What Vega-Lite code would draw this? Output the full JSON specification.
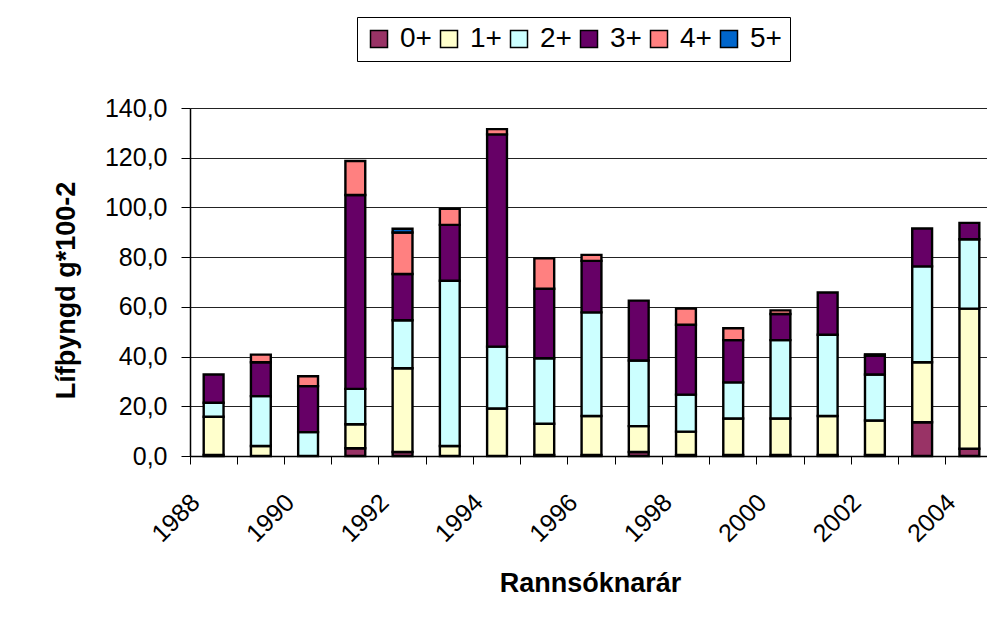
{
  "$schema": "https://vega.github.io/schema/vega-lite/v6.json",
  "width": 797,
  "height": 348,
  "autosize": {"type": "none"},
  "padding": {"left": 190, "top": 108, "right": 0, "bottom": 169},
  "background": "white",
  "config": {
    "font": "Liberation Sans",
    "view": {"stroke": null},
    "axis": {"labelFont": "Liberation Sans", "titleFont": "Liberation Sans", "labelColor": "black", "titleColor": "black"}
  },
  "data": {"values": [
    {"year": 1988, "age": "0+", "k": 0, "v": 0.4},
    {"year": 1988, "age": "1+", "k": 1, "v": 15.4},
    {"year": 1988, "age": "2+", "k": 2, "v": 5.6},
    {"year": 1988, "age": "3+", "k": 3, "v": 11.4},
    {"year": 1989, "age": "1+", "k": 1, "v": 4.0},
    {"year": 1989, "age": "2+", "k": 2, "v": 20.1},
    {"year": 1989, "age": "3+", "k": 3, "v": 13.6},
    {"year": 1989, "age": "4+", "k": 4, "v": 3.1},
    {"year": 1990, "age": "2+", "k": 2, "v": 9.6},
    {"year": 1990, "age": "3+", "k": 3, "v": 18.5},
    {"year": 1990, "age": "4+", "k": 4, "v": 4.0},
    {"year": 1991, "age": "0+", "k": 0, "v": 3.1},
    {"year": 1991, "age": "1+", "k": 1, "v": 9.7},
    {"year": 1991, "age": "2+", "k": 2, "v": 14.2},
    {"year": 1991, "age": "3+", "k": 3, "v": 78.0},
    {"year": 1991, "age": "4+", "k": 4, "v": 13.7},
    {"year": 1992, "age": "0+", "k": 0, "v": 1.6},
    {"year": 1992, "age": "1+", "k": 1, "v": 33.7},
    {"year": 1992, "age": "2+", "k": 2, "v": 19.3},
    {"year": 1992, "age": "3+", "k": 3, "v": 18.6},
    {"year": 1992, "age": "4+", "k": 4, "v": 16.7},
    {"year": 1992, "age": "5+", "k": 5, "v": 1.5},
    {"year": 1993, "age": "1+", "k": 1, "v": 4.0},
    {"year": 1993, "age": "2+", "k": 2, "v": 66.5},
    {"year": 1993, "age": "3+", "k": 3, "v": 22.5},
    {"year": 1993, "age": "4+", "k": 4, "v": 6.4},
    {"year": 1994, "age": "1+", "k": 1, "v": 19.1},
    {"year": 1994, "age": "2+", "k": 2, "v": 24.9},
    {"year": 1994, "age": "3+", "k": 3, "v": 85.4},
    {"year": 1994, "age": "4+", "k": 4, "v": 2.1},
    {"year": 1995, "age": "0+", "k": 0, "v": 0.4},
    {"year": 1995, "age": "1+", "k": 1, "v": 12.6},
    {"year": 1995, "age": "2+", "k": 2, "v": 26.3},
    {"year": 1995, "age": "3+", "k": 3, "v": 28.0},
    {"year": 1995, "age": "4+", "k": 4, "v": 12.2},
    {"year": 1996, "age": "0+", "k": 0, "v": 0.4},
    {"year": 1996, "age": "1+", "k": 1, "v": 15.7},
    {"year": 1996, "age": "2+", "k": 2, "v": 41.7},
    {"year": 1996, "age": "3+", "k": 3, "v": 20.7},
    {"year": 1996, "age": "4+", "k": 4, "v": 2.4},
    {"year": 1997, "age": "0+", "k": 0, "v": 1.6},
    {"year": 1997, "age": "1+", "k": 1, "v": 10.4},
    {"year": 1997, "age": "2+", "k": 2, "v": 26.4},
    {"year": 1997, "age": "3+", "k": 3, "v": 24.1},
    {"year": 1998, "age": "0+", "k": 0, "v": 0.4},
    {"year": 1998, "age": "1+", "k": 1, "v": 9.4},
    {"year": 1998, "age": "2+", "k": 2, "v": 14.9},
    {"year": 1998, "age": "3+", "k": 3, "v": 28.1},
    {"year": 1998, "age": "4+", "k": 4, "v": 6.5},
    {"year": 1999, "age": "0+", "k": 0, "v": 0.4},
    {"year": 1999, "age": "1+", "k": 1, "v": 14.7},
    {"year": 1999, "age": "2+", "k": 2, "v": 14.5},
    {"year": 1999, "age": "3+", "k": 3, "v": 17.0},
    {"year": 1999, "age": "4+", "k": 4, "v": 4.8},
    {"year": 2000, "age": "0+", "k": 0, "v": 0.4},
    {"year": 2000, "age": "1+", "k": 1, "v": 14.7},
    {"year": 2000, "age": "2+", "k": 2, "v": 31.5},
    {"year": 2000, "age": "3+", "k": 3, "v": 10.5},
    {"year": 2000, "age": "4+", "k": 4, "v": 1.5},
    {"year": 2001, "age": "0+", "k": 0, "v": 0.4},
    {"year": 2001, "age": "1+", "k": 1, "v": 15.7},
    {"year": 2001, "age": "2+", "k": 2, "v": 32.7},
    {"year": 2001, "age": "3+", "k": 3, "v": 17.0},
    {"year": 2002, "age": "0+", "k": 0, "v": 0.4},
    {"year": 2002, "age": "1+", "k": 1, "v": 13.9},
    {"year": 2002, "age": "2+", "k": 2, "v": 18.5},
    {"year": 2002, "age": "3+", "k": 3, "v": 7.6},
    {"year": 2002, "age": "4+", "k": 4, "v": 0.5},
    {"year": 2003, "age": "0+", "k": 0, "v": 13.6},
    {"year": 2003, "age": "1+", "k": 1, "v": 24.1},
    {"year": 2003, "age": "2+", "k": 2, "v": 38.6},
    {"year": 2003, "age": "3+", "k": 3, "v": 15.2},
    {"year": 2004, "age": "0+", "k": 0, "v": 2.9},
    {"year": 2004, "age": "1+", "k": 1, "v": 56.4},
    {"year": 2004, "age": "2+", "k": 2, "v": 27.9},
    {"year": 2004, "age": "3+", "k": 3, "v": 6.6}
  ]},
  "mark": {"type": "bar", "width": {"band": 0.42}, "stroke": "black", "strokeWidth": 2.4},
  "encoding": {
    "x": {
      "field": "year", "type": "ordinal",
      "scale": {"range": [0, 803], "paddingInner": 0, "paddingOuter": 0},
      "axis": {
        "title": "Rannsóknarár",
        "titleFontSize": 27, "titleFontWeight": "bold",
        "titleX": 400, "titleY": 135, "titleBaseline": "alphabetic", "titleAlign": "center",
        "bandPosition": 0,
        "labelExpr": "datum.value % 2 == 0 ? datum.label : ''",
        "labelAngle": -45, "labelAlign": "right", "labelBaseline": "middle",
        "labelFontSize": 25, "labelOffset": -18, "labelPadding": 34,
        "labelOverlap": false, "labelBound": false, "labelFlush": false,
        "tickSize": 8, "tickColor": "black", "tickWidth": 1,
        "domainColor": "black", "domainWidth": 1.5,
        "grid": false
      }
    },
    "y": {
      "field": "v", "type": "quantitative", "stack": "zero",
      "scale": {"domain": [0, 140], "nice": false},
      "axis": {
        "title": "Lífþyngd g*100-2",
        "titleFontSize": 27, "titleFontWeight": "bold",
        "titleX": -124, "titleY": 182, "titleAngle": -90, "titleAlign": "center", "titleBaseline": "middle",
        "values": [0, 20, 40, 60, 80, 100, 120, 140],
        "labelExpr": "replace(format(datum.value, '.1f'), '.', ',')",
        "labelFontSize": 25, "labelPadding": 14,
        "tickSize": 9, "tickColor": "black",
        "domainColor": "black", "domainWidth": 1.5,
        "grid": true, "gridColor": "#222", "gridWidth": 1
      }
    },
    "color": {
      "field": "age", "type": "nominal",
      "scale": {"domain": ["0+", "1+", "2+", "3+", "4+", "5+"],
                "range": ["#993366", "#FFFFCC", "#CCFFFF", "#660066", "#FF8080", "#0066CC"]},
      "legend": {
        "title": null, "orient": "none", "legendX": 167, "legendY": -91,
        "direction": "horizontal", "columns": 6,
        "strokeColor": "black", "fillColor": "white", "padding": 8,
        "symbolType": "square", "symbolSize": 289, "symbolStrokeColor": "black", "symbolStrokeWidth": 1.5,
        "labelFontSize": 28, "labelFont": "Liberation Sans", "labelColor": "black", "labelOffset": 7,
        "columnPadding": 3
      }
    },
    "order": {"field": "k", "type": "quantitative", "sort": "ascending"}
  }
}
